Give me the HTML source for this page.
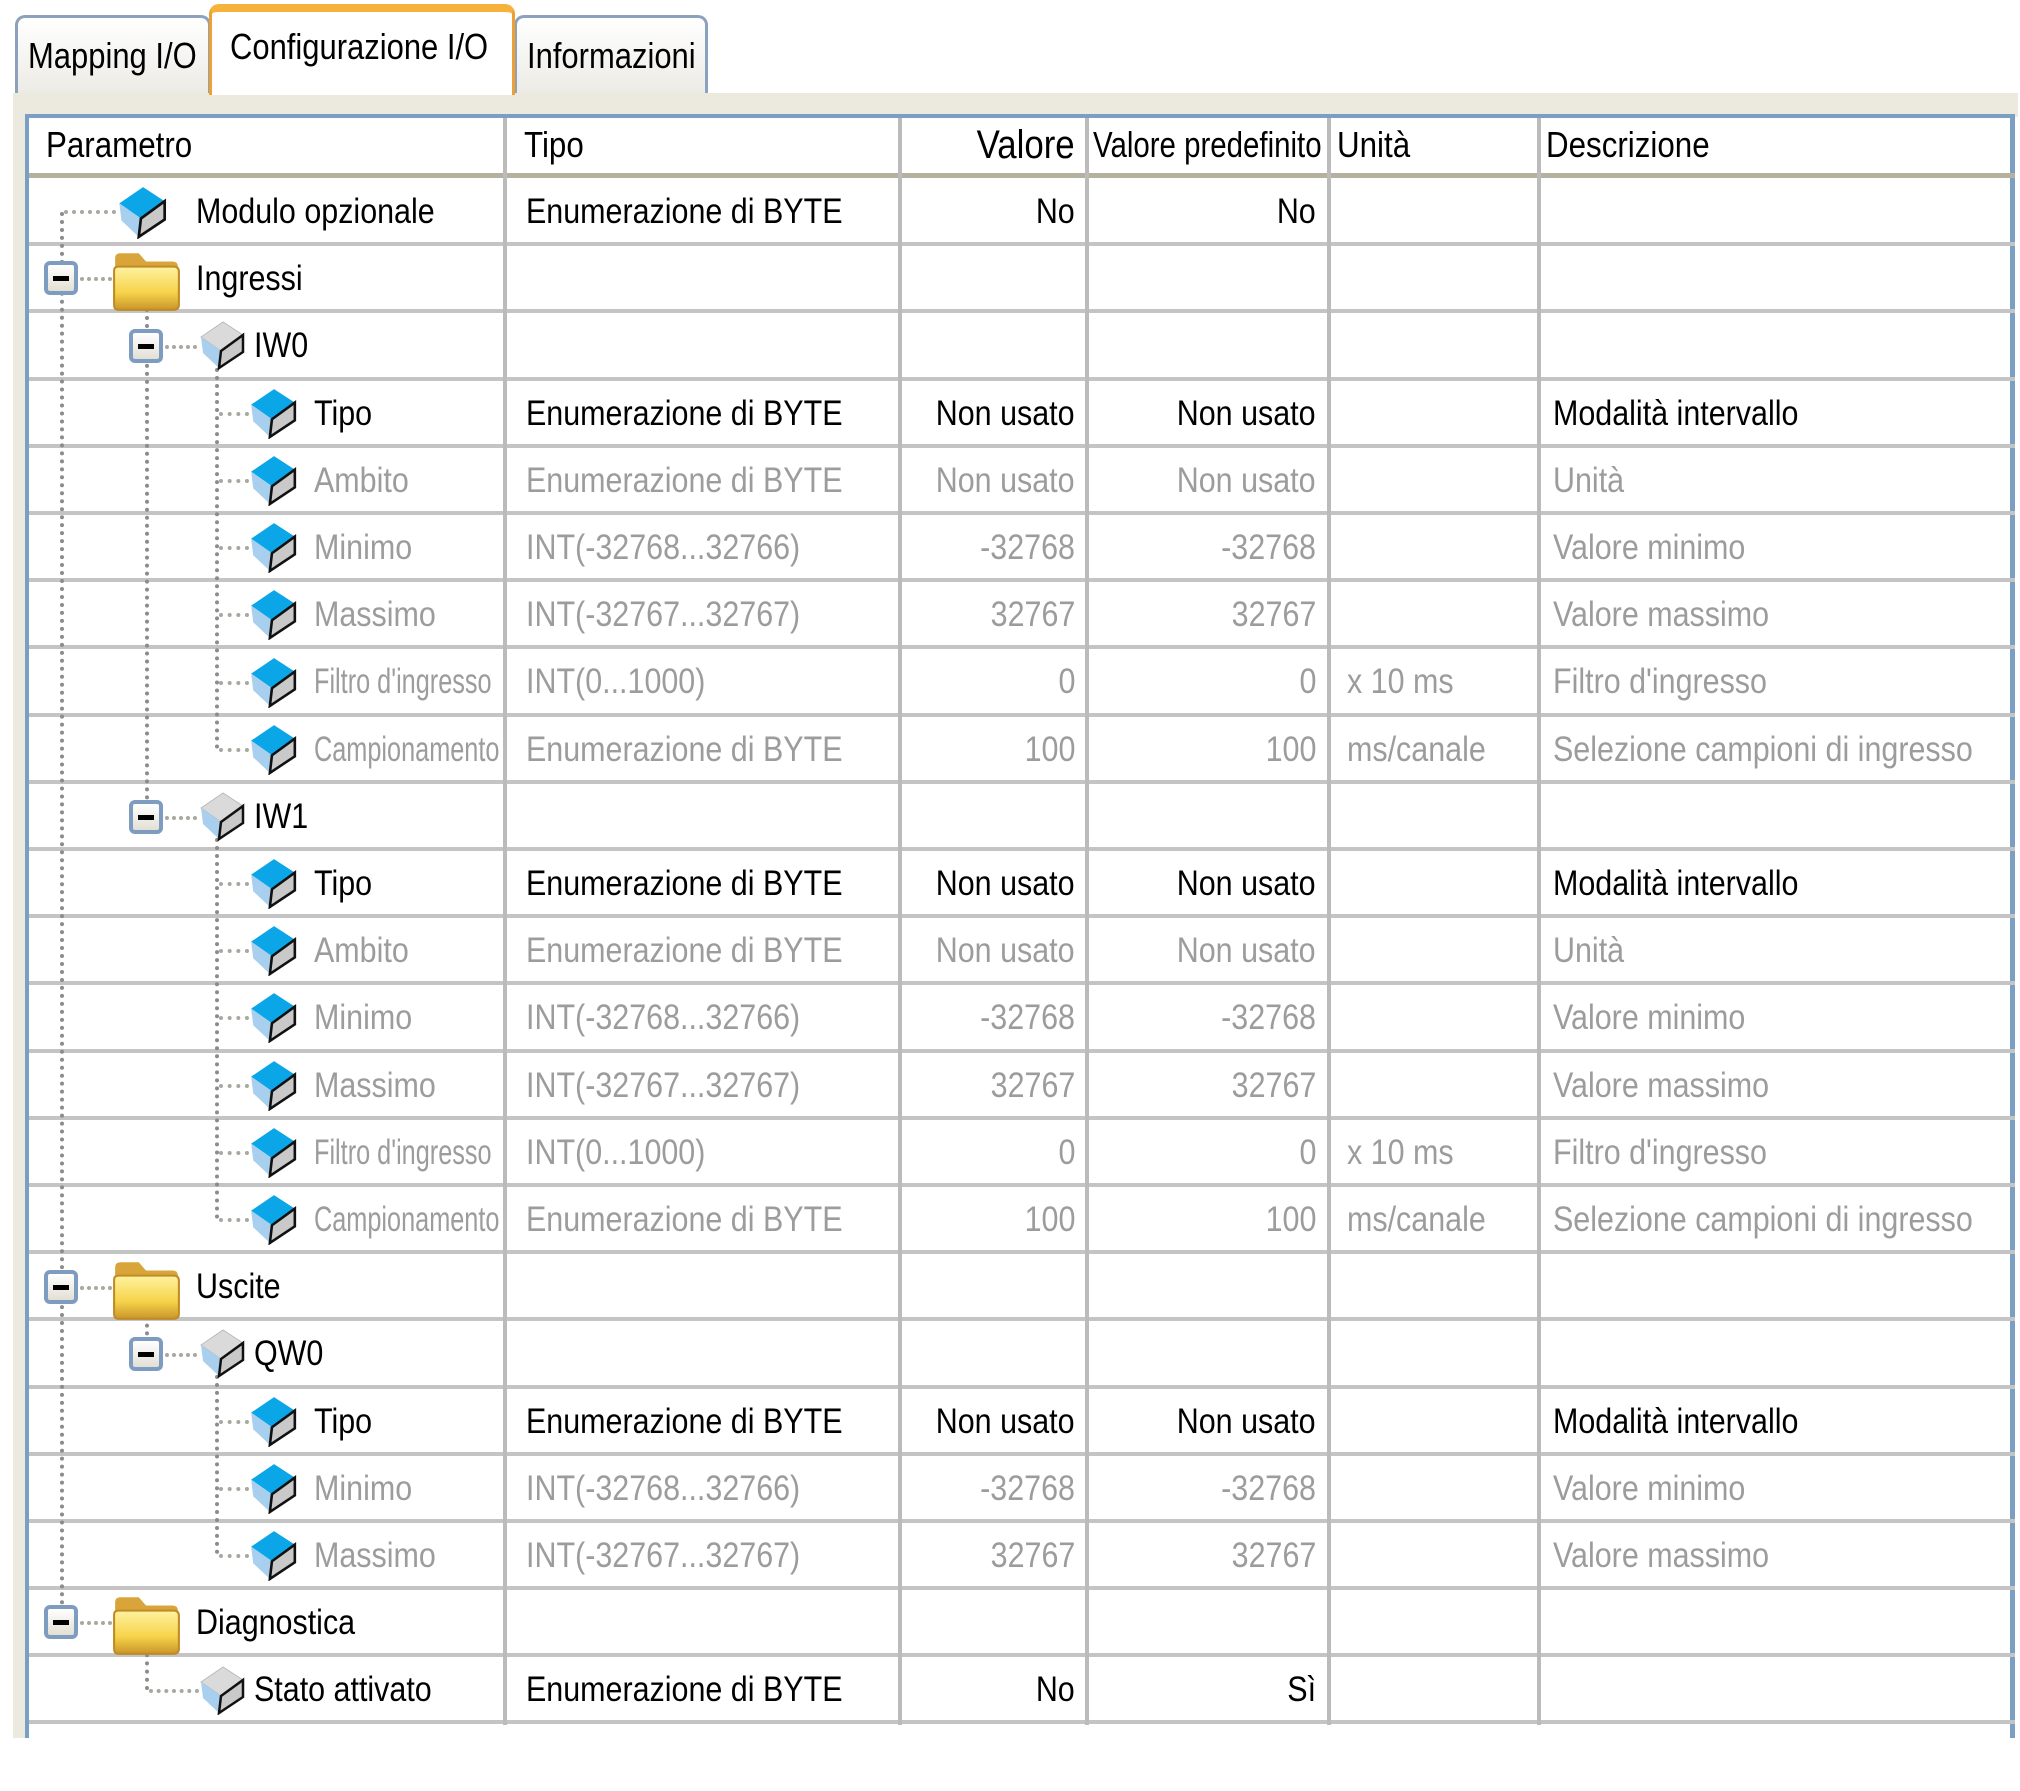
<!DOCTYPE html>
<html><head><meta charset="utf-8"><style>
body{margin:0;background:#fff;}
#w{position:relative;width:2020px;height:1791px;overflow:hidden;background:#fff;font-family:"Liberation Sans",sans-serif;font-size:35px;color:#000;}
.abs{position:absolute;}
.tab{position:absolute;top:15px;height:78px;border:3px solid #8aa2bd;border-bottom:none;border-radius:10px 10px 0 0;background:linear-gradient(#fff,#ecebe5);box-sizing:border-box;font-size:36px;line-height:76px;padding-left:10px;white-space:nowrap;}
.tab span{display:inline-block;transform:scaleX(0.86);transform-origin:0 50%;}
.band{position:absolute;left:13px;top:93px;width:2005px;height:24px;background:#ece9de;}
.strip{position:absolute;left:13px;top:93px;width:13px;height:1645px;background:#ece9de;}
.tbl{position:absolute;left:25px;top:114px;width:1990px;height:1624px;border-left:4px solid #7b9ec3;border-top:4px solid #7b9ec3;border-right:5px solid #7b9ec3;background:#fff;box-sizing:border-box;}
.hl{position:absolute;left:29px;width:1986px;height:4px;background:#c4c4c4;}
.vl{position:absolute;top:118px;width:4px;height:1607px;background:#bbb;}
.r{position:absolute;left:0;width:2020px;height:67px;line-height:69px;white-space:nowrap;}
.r>span{position:absolute;top:0;transform:scaleX(0.87);transform-origin:0 50%;}
.r>span.c2,.r>span.c3,.r>span.rr{transform-origin:100% 50%;}
.g{color:#9c9c9c;}
.c1{left:526px}.c2{right:945px}.c3{right:704px}.c4{left:1347px}.c5{left:1553px}
.t1{left:196px}.t2{left:254px}.t3{left:314px}
.sq{display:inline-block;transform:scaleX(0.83);transform-origin:0 50%;}
.dv{position:absolute;width:0;border-left:4px dotted #8c8c8c;}
.dh{position:absolute;height:0;border-top:4px dotted #a8a8a0;}
.box{position:absolute;width:34px;height:34px;border:4px solid #7d9cbf;border-radius:6px;background:linear-gradient(#fff,#e2dfd4);box-sizing:border-box;}
.box:after{content:"";position:absolute;left:5px;right:5px;top:11px;height:5px;background:#000;}
.ic{position:absolute;}
</style></head><body><div id="w">
<svg width="0" height="0" style="position:absolute">
<defs>
<symbol id="cb" viewBox="0 0 48 50"><polygon points="3,17 25,2 45,15 23,31" fill="#0aa6e8"/><polygon points="3,17 23,31 21,48 5,33" fill="#a9cfee"/><polygon points="23,31 45,15 45,32 21,48" fill="#c9c9c9" stroke="#111" stroke-width="2.5"/></symbol>
<symbol id="cg" viewBox="0 0 48 50"><polygon points="3,17 25,2 45,15 23,31" fill="#dadada" stroke="#bbb" stroke-width="1"/><polygon points="3,17 23,31 21,48 5,33" fill="#a9cfee"/><polygon points="23,31 45,15 45,32 21,48" fill="#c9c9c9" stroke="#111" stroke-width="2.5"/></symbol>
<symbol id="fd" viewBox="0 0 70 60"><linearGradient id="fg" x1="0" y1="0" x2="0" y2="1"><stop offset="0" stop-color="#fff3a0"/><stop offset="0.6" stop-color="#f6d34a"/><stop offset="1" stop-color="#c9962a"/></linearGradient><path d="M4,8 q0,-5 5,-5 h18 l7,8 h26 q5,0 5,5 v38 q0,4 -4,4 h-53 q-4,0 -4,-4z" fill="#d9a53a"/><path d="M3,20 q0,-4 4,-4 h54 q5,0 5,5 v32 q0,5 -5,5 h-54 q-4,0 -4,-5z" fill="url(#fg)" stroke="#c08a25" stroke-width="2"/></symbol>
</defs></svg>

<div class="tab" style="left:15px;width:196px;"><span>Mapping I/O</span></div>
<div class="tab" style="left:514px;width:194px;"><span>Informazioni</span></div>
<div class="tab" style="left:209px;top:4px;width:306px;height:91px;background:#fff;border-color:#f0a030;border-top:8px solid #f6b23a;line-height:70px;padding-left:18px;z-index:2;"><span>Configurazione I/O</span></div>
<div class="band"></div><div class="strip"></div>
<div class="tbl"></div>

<div class="abs" style="left:29px;top:173px;width:1986px;height:5px;background:#b5b19f;"></div>
<div class="r" style="top:112px;line-height:66px;font-size:36px;">
<span style="left:46px">Parametro</span><span style="left:524px">Tipo</span><span class="rr" style="right:945px;font-size:40px;">Valore</span><span style="left:1093px"><span class="sq" style="transform:scaleX(0.94)">Valore predefinito</span></span><span style="left:1337px">Unità</span><span style="left:1546px">Descrizione</span></div>

<div class="hl" style="top:242px"></div><div class="hl" style="top:309px"></div><div class="hl" style="top:377px"></div><div class="hl" style="top:444px"></div><div class="hl" style="top:511px"></div><div class="hl" style="top:578px"></div><div class="hl" style="top:645px"></div><div class="hl" style="top:713px"></div><div class="hl" style="top:780px"></div><div class="hl" style="top:847px"></div><div class="hl" style="top:914px"></div><div class="hl" style="top:981px"></div><div class="hl" style="top:1049px"></div><div class="hl" style="top:1116px"></div><div class="hl" style="top:1183px"></div><div class="hl" style="top:1250px"></div><div class="hl" style="top:1317px"></div><div class="hl" style="top:1385px"></div><div class="hl" style="top:1452px"></div><div class="hl" style="top:1519px"></div><div class="hl" style="top:1586px"></div><div class="hl" style="top:1653px"></div><div class="hl" style="top:1720px"></div>
<div class="vl" style="left:503px"></div><div class="vl" style="left:898px"></div><div class="vl" style="left:1085px"></div><div class="vl" style="left:1327px"></div><div class="vl" style="left:1537px"></div>

<div class="dv" style="left:60px;top:212px;height:1410px;"></div>
<div class="dh" style="left:64px;top:210px;width:52px;"></div>
<div class="dh" style="left:80px;top:277px;width:32px;"></div>
<div class="dh" style="left:80px;top:1286px;width:32px;"></div>
<div class="dh" style="left:80px;top:1621px;width:32px;"></div>
<div class="dv" style="left:145px;top:300px;height:516px;"></div>
<div class="dv" style="left:145px;top:1308px;height:43px;"></div>
<div class="dv" style="left:145px;top:1645px;height:45px;"></div>
<div class="dh" style="left:149px;top:1689px;width:50px;"></div>
<div class="dh" style="left:165px;top:345px;width:32px;"></div>
<div class="dh" style="left:165px;top:816px;width:32px;"></div>
<div class="dh" style="left:165px;top:1353px;width:32px;"></div>
<div class="dv" style="left:215px;top:368px;height:381px;"></div>
<div class="dv" style="left:215px;top:838px;height:381px;"></div>
<div class="dv" style="left:215px;top:1375px;height:179px;"></div>
<div class="dh" style="left:219px;top:412px;width:30px;"></div><div class="dh" style="left:219px;top:479px;width:30px;"></div><div class="dh" style="left:219px;top:546px;width:30px;"></div><div class="dh" style="left:219px;top:613px;width:30px;"></div><div class="dh" style="left:219px;top:681px;width:30px;"></div><div class="dh" style="left:219px;top:748px;width:30px;"></div>
<div class="dh" style="left:219px;top:882px;width:30px;"></div><div class="dh" style="left:219px;top:949px;width:30px;"></div><div class="dh" style="left:219px;top:1016px;width:30px;"></div><div class="dh" style="left:219px;top:1084px;width:30px;"></div><div class="dh" style="left:219px;top:1151px;width:30px;"></div><div class="dh" style="left:219px;top:1218px;width:30px;"></div>
<div class="dh" style="left:219px;top:1420px;width:30px;"></div><div class="dh" style="left:219px;top:1487px;width:30px;"></div><div class="dh" style="left:219px;top:1554px;width:30px;"></div>

<svg class="ic" style="left:116px;top:185px" width="52" height="54"><use href="#cb"/></svg>
<div class="box" style="left:44px;top:261px"></div><svg class="ic" style="left:111px;top:250px" width="72" height="62"><use href="#fd"/></svg>
<div class="box" style="left:129px;top:329px"></div><svg class="ic" style="left:198px;top:320px" width="48" height="50"><use href="#cg"/></svg>
<svg class="ic" style="left:248px;top:387px" width="50" height="52"><use href="#cb"/></svg>
<svg class="ic" style="left:248px;top:454px" width="50" height="52"><use href="#cb"/></svg>
<svg class="ic" style="left:248px;top:521px" width="50" height="52"><use href="#cb"/></svg>
<svg class="ic" style="left:248px;top:588px" width="50" height="52"><use href="#cb"/></svg>
<svg class="ic" style="left:248px;top:656px" width="50" height="52"><use href="#cb"/></svg>
<svg class="ic" style="left:248px;top:723px" width="50" height="52"><use href="#cb"/></svg>
<div class="box" style="left:129px;top:800px"></div><svg class="ic" style="left:198px;top:791px" width="48" height="50"><use href="#cg"/></svg>
<svg class="ic" style="left:248px;top:857px" width="50" height="52"><use href="#cb"/></svg>
<svg class="ic" style="left:248px;top:924px" width="50" height="52"><use href="#cb"/></svg>
<svg class="ic" style="left:248px;top:991px" width="50" height="52"><use href="#cb"/></svg>
<svg class="ic" style="left:248px;top:1059px" width="50" height="52"><use href="#cb"/></svg>
<svg class="ic" style="left:248px;top:1126px" width="50" height="52"><use href="#cb"/></svg>
<svg class="ic" style="left:248px;top:1193px" width="50" height="52"><use href="#cb"/></svg>
<div class="box" style="left:44px;top:1270px"></div><svg class="ic" style="left:111px;top:1259px" width="72" height="62"><use href="#fd"/></svg>
<div class="box" style="left:129px;top:1337px"></div><svg class="ic" style="left:198px;top:1328px" width="48" height="50"><use href="#cg"/></svg>
<svg class="ic" style="left:248px;top:1395px" width="50" height="52"><use href="#cb"/></svg>
<svg class="ic" style="left:248px;top:1462px" width="50" height="52"><use href="#cb"/></svg>
<svg class="ic" style="left:248px;top:1529px" width="50" height="52"><use href="#cb"/></svg>
<div class="box" style="left:44px;top:1605px"></div><svg class="ic" style="left:111px;top:1594px" width="72" height="62"><use href="#fd"/></svg>
<svg class="ic" style="left:198px;top:1665px" width="48" height="50"><use href="#cg"/></svg>

<div class="r" style="top:177px"><span class="t1">Modulo opzionale</span><span class="c1">Enumerazione di BYTE</span><span class="c2">No</span><span class="c3">No</span></div>
<div class="r" style="top:244px"><span class="t1">Ingressi</span></div>
<div class="r" style="top:311px"><span class="t2">IW0</span></div>
<div class="r" style="top:379px"><span class="t3">Tipo</span><span class="c1">Enumerazione di BYTE</span><span class="c2">Non usato</span><span class="c3">Non usato</span><span class="c5">Modalità intervallo</span></div>
<div class="r g" style="top:446px"><span class="t3">Ambito</span><span class="c1">Enumerazione di BYTE</span><span class="c2">Non usato</span><span class="c3">Non usato</span><span class="c5">Unità</span></div>
<div class="r g" style="top:513px"><span class="t3">Minimo</span><span class="c1">INT(-32768...32766)</span><span class="c2">-32768</span><span class="c3">-32768</span><span class="c5">Valore minimo</span></div>
<div class="r g" style="top:580px"><span class="t3">Massimo</span><span class="c1">INT(-32767...32767)</span><span class="c2">32767</span><span class="c3">32767</span><span class="c5">Valore massimo</span></div>
<div class="r g" style="top:647px"><span class="t3"><span class="sq">Filtro d'ingresso</span></span><span class="c1">INT(0...1000)</span><span class="c2">0</span><span class="c3">0</span><span class="c4">x 10 ms</span><span class="c5">Filtro d'ingresso</span></div>
<div class="r g" style="top:715px"><span class="t3"><span class="sq">Campionamento</span></span><span class="c1">Enumerazione di BYTE</span><span class="c2">100</span><span class="c3">100</span><span class="c4">ms/canale</span><span class="c5">Selezione campioni di ingresso</span></div>
<div class="r" style="top:782px"><span class="t2">IW1</span></div>
<div class="r" style="top:849px"><span class="t3">Tipo</span><span class="c1">Enumerazione di BYTE</span><span class="c2">Non usato</span><span class="c3">Non usato</span><span class="c5">Modalità intervallo</span></div>
<div class="r g" style="top:916px"><span class="t3">Ambito</span><span class="c1">Enumerazione di BYTE</span><span class="c2">Non usato</span><span class="c3">Non usato</span><span class="c5">Unità</span></div>
<div class="r g" style="top:983px"><span class="t3">Minimo</span><span class="c1">INT(-32768...32766)</span><span class="c2">-32768</span><span class="c3">-32768</span><span class="c5">Valore minimo</span></div>
<div class="r g" style="top:1051px"><span class="t3">Massimo</span><span class="c1">INT(-32767...32767)</span><span class="c2">32767</span><span class="c3">32767</span><span class="c5">Valore massimo</span></div>
<div class="r g" style="top:1118px"><span class="t3"><span class="sq">Filtro d'ingresso</span></span><span class="c1">INT(0...1000)</span><span class="c2">0</span><span class="c3">0</span><span class="c4">x 10 ms</span><span class="c5">Filtro d'ingresso</span></div>
<div class="r g" style="top:1185px"><span class="t3"><span class="sq">Campionamento</span></span><span class="c1">Enumerazione di BYTE</span><span class="c2">100</span><span class="c3">100</span><span class="c4">ms/canale</span><span class="c5">Selezione campioni di ingresso</span></div>
<div class="r" style="top:1252px"><span class="t1">Uscite</span></div>
<div class="r" style="top:1319px"><span class="t2">QW0</span></div>
<div class="r" style="top:1387px"><span class="t3">Tipo</span><span class="c1">Enumerazione di BYTE</span><span class="c2">Non usato</span><span class="c3">Non usato</span><span class="c5">Modalità intervallo</span></div>
<div class="r g" style="top:1454px"><span class="t3">Minimo</span><span class="c1">INT(-32768...32766)</span><span class="c2">-32768</span><span class="c3">-32768</span><span class="c5">Valore minimo</span></div>
<div class="r g" style="top:1521px"><span class="t3">Massimo</span><span class="c1">INT(-32767...32767)</span><span class="c2">32767</span><span class="c3">32767</span><span class="c5">Valore massimo</span></div>
<div class="r" style="top:1588px"><span class="t1">Diagnostica</span></div>
<div class="r" style="top:1655px"><span class="t2">Stato attivato</span><span class="c1">Enumerazione di BYTE</span><span class="c2">No</span><span class="c3">Sì</span></div>
</div></body></html>
